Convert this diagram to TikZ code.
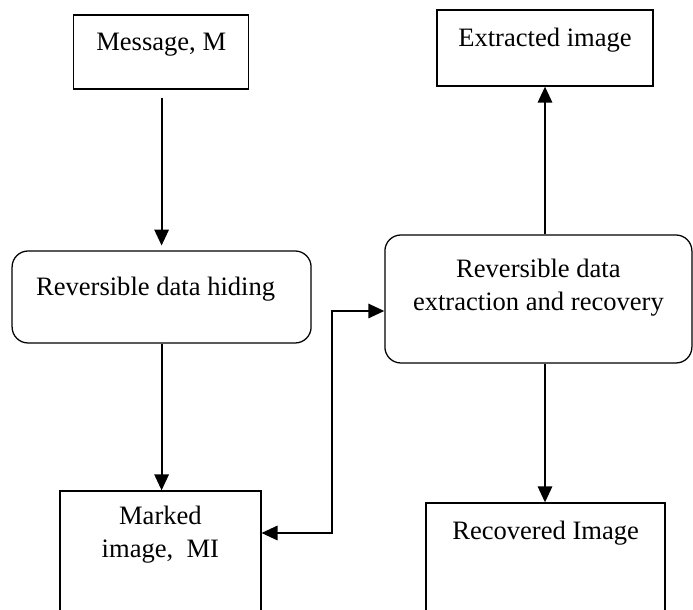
\documentclass[tikz,border=0pt]{standalone}
\usepackage{fontspec}
\setmainfont{Liberation Serif}
\usetikzlibrary{arrows.meta,positioning}
\tikzset{
  box/.style={draw=black, line width=0.9pt, fill=white, align=center, inner xsep=0pt, inner ysep=0pt, font=\fontsize{18.9}{23.8}\selectfont},
  roundbox/.style={box, rounded corners=0.4cm},
  arrow/.style={-{Triangle[length=0.4cm,width=0.36cm]}, line width=1.4pt, draw=black},
  dblarrow/.style={{Triangle[length=0.4cm,width=0.36cm]}-{Triangle[length=0.4cm,width=0.36cm]}, line width=1.4pt, draw=black}
}

\begin{document}
\begin{tikzpicture}
\useasboundingbox (0,0) rectangle (17.325,15.25);
\clip (0,0) rectangle (17.325,15.25);
% hiding side
\node[box, minimum width=4.375cm, text height=0.9cm, text depth=0.95cm] (msg) at (4.03,13.95) {Message, M};
\node[roundbox, minimum width=7.475cm, text height=1.125cm, text depth=1.175cm] (hide) at (4.04,7.825) {Reversible data hiding\hspace*{0.3cm}};
\node[box, minimum width=5.025cm, text height=1.675cm, text depth=1.675cm] (marked) at (4.01,1.3) {Marked\\image, \ MI};
% extraction side
\node[box, minimum width=5.4cm, text height=0.925cm, text depth=0.975cm] (extr) at (13.625,14.05) {Extracted image};
\node[roundbox, minimum width=7.675cm, text height=1.9cm, text depth=1.3cm] (xrec) at (13.46,7.775) {Reversible data\\extraction and recovery};
\node[box, minimum width=5.975cm, text height=0.925cm, text depth=2.125cm] (recov) at (13.64,1.15) {Recovered Image};
\draw[arrow, shorten <=0.2cm, shorten >=0.12cm] (msg.south -| hide.north) -- (hide.north);
\draw[arrow] (hide.south) -- (hide.south |- marked.north);
\draw[arrow] (extr.south |- xrec.north) -- (extr.south);
\draw[arrow] (extr.south |- xrec.south) -- (extr.south |- recov.north);
% link between the two sides
\coordinate (jlow) at (8.3,1.925);
\coordinate (jup) at (8.3,7.475);
\draw[dblarrow] (jlow -| marked.east) -- (jlow) -- (jup) -- (jup -| xrec.west);
\end{tikzpicture}
\end{document}
